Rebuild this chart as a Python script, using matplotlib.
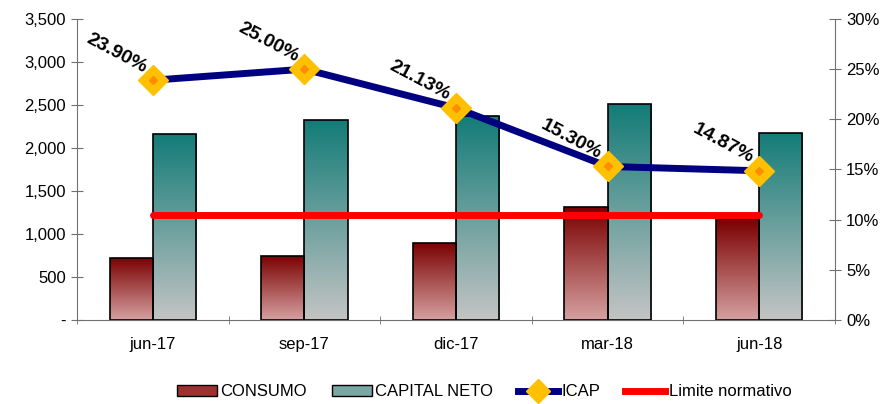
import matplotlib.pyplot as plt
import matplotlib.colors as mcolors
from matplotlib.patches import Patch
from matplotlib.lines import Line2D
import numpy as np

# data
periods = ['jun-17', 'sep-17', 'dic-17', 'mar-18', 'jun-18']
consumo = [725, 745, 900, 1310, 1170]
capital_neto = [2160, 2325, 2370, 2510, 2175]
icap = [23.90, 25.00, 21.13, 15.30, 14.87]
limite = [10.5, 10.5, 10.5, 10.5, 10.5]

plt.rcParams['font.family'] = ['Liberation Sans', 'DejaVu Sans']

fig = plt.figure(figsize=(8.88, 4.04), dpi=100)
ax = fig.add_axes([0.0867, 0.208, 0.8536, 0.745])
ax2 = ax.twinx()

x = np.arange(len(periods))
w = 0.285

# vertical gradient fill for the bars
def gradient_bars(ax, xs, hs, top, bottom):
    cmap = mcolors.LinearSegmentedColormap.from_list('g', [bottom, top])
    grad = np.linspace(0, 1, 256).reshape(-1, 1)
    bars = ax.bar(xs, hs, width=w, facecolor='none', edgecolor='black', linewidth=1.2, zorder=3)
    for b in bars:
        x0, y0 = b.get_x(), b.get_y()
        im = ax.imshow(grad, extent=(x0, x0 + b.get_width(), y0, y0 + b.get_height()),
                       origin='lower', cmap=cmap, aspect='auto', zorder=2)
        im.set_clip_path(b)
    return bars

gradient_bars(ax, x - w / 2, consumo, '#7a0000', '#d6a0a0')
gradient_bars(ax, x + w / 2, capital_neto, '#137c78', '#c4c4c4')

ax.set_xlim(-0.5, len(periods) - 0.5)
ax.set_ylim(0, 3500)
ax.set_yticks(np.arange(0, 3501, 500))
ax.set_yticklabels(['-'] + [f'{v:,}' for v in range(500, 3501, 500)])
ax.set_xticks(x)
ax.set_xticklabels(periods)
ax.set_xticks(np.arange(-0.5, len(periods), 1), minor=True)
ax.tick_params(axis='x', which='major', length=0, pad=12, labelsize=12)
ax.tick_params(axis='x', which='minor', length=6, direction='inout', color='#707070')
ax.tick_params(axis='y', length=8, direction='inout', color='#707070', labelsize=12, pad=4)

for s in ['top', 'right']:
    ax.spines[s].set_visible(False)
for s in ['left', 'bottom']:
    ax.spines[s].set_color('#707070')

# right axis: ICAP and limit
ax2.plot(x, limite, color='#ff0000', linewidth=5, solid_capstyle='round', zorder=4)
ax2.plot(x, icap, color='#000080', linewidth=5, marker='D', markersize=15,
         markerfacecolor='#ffc000', markeredgecolor='#ffc000', zorder=5)
ax2.plot(x, icap, linestyle='none', marker='D', markersize=4, color='#ff8c00', zorder=6)
for xi, v in zip(x, icap):
    ax2.annotate(f'{v:.2f}%', (xi, v), xytext=(-36, 27), textcoords='offset pixels',
                 ha='center', va='center', rotation=-28, fontsize=14, fontweight='bold', zorder=7)

ax2.set_ylim(0, 30)
ax2.set_yticks(np.arange(0, 31, 5))
ax2.set_yticklabels([f'{v}%' for v in range(0, 31, 5)])
ax2.tick_params(axis='y', length=8, direction='inout', color='#707070', labelsize=12, pad=4)
for s in ['top', 'left', 'bottom']:
    ax2.spines[s].set_visible(False)
ax2.spines['right'].set_color('#707070')

handles = [
    Patch(facecolor='#a03030', edgecolor='black', label='CONSUMO'),
    Patch(facecolor='#7aa6a4', edgecolor='black', label='CAPITAL NETO'),
    Line2D([0], [0], color='#000080', linewidth=5, marker='D', markersize=12,
           markerfacecolor='#ffc000', markeredgecolor='#ffc000', label='ICAP'),
    Line2D([0], [0], color='#ff0000', linewidth=5, label='Limite normativo'),
]
fig.legend(handles=handles, loc='center', bbox_to_anchor=(0.545, 0.03), ncol=4, frameon=False,
           fontsize=12, handlelength=2.4, handleheight=0.6, handletextpad=0.2, columnspacing=1.5)

plt.savefig('out.png', dpi=100)
